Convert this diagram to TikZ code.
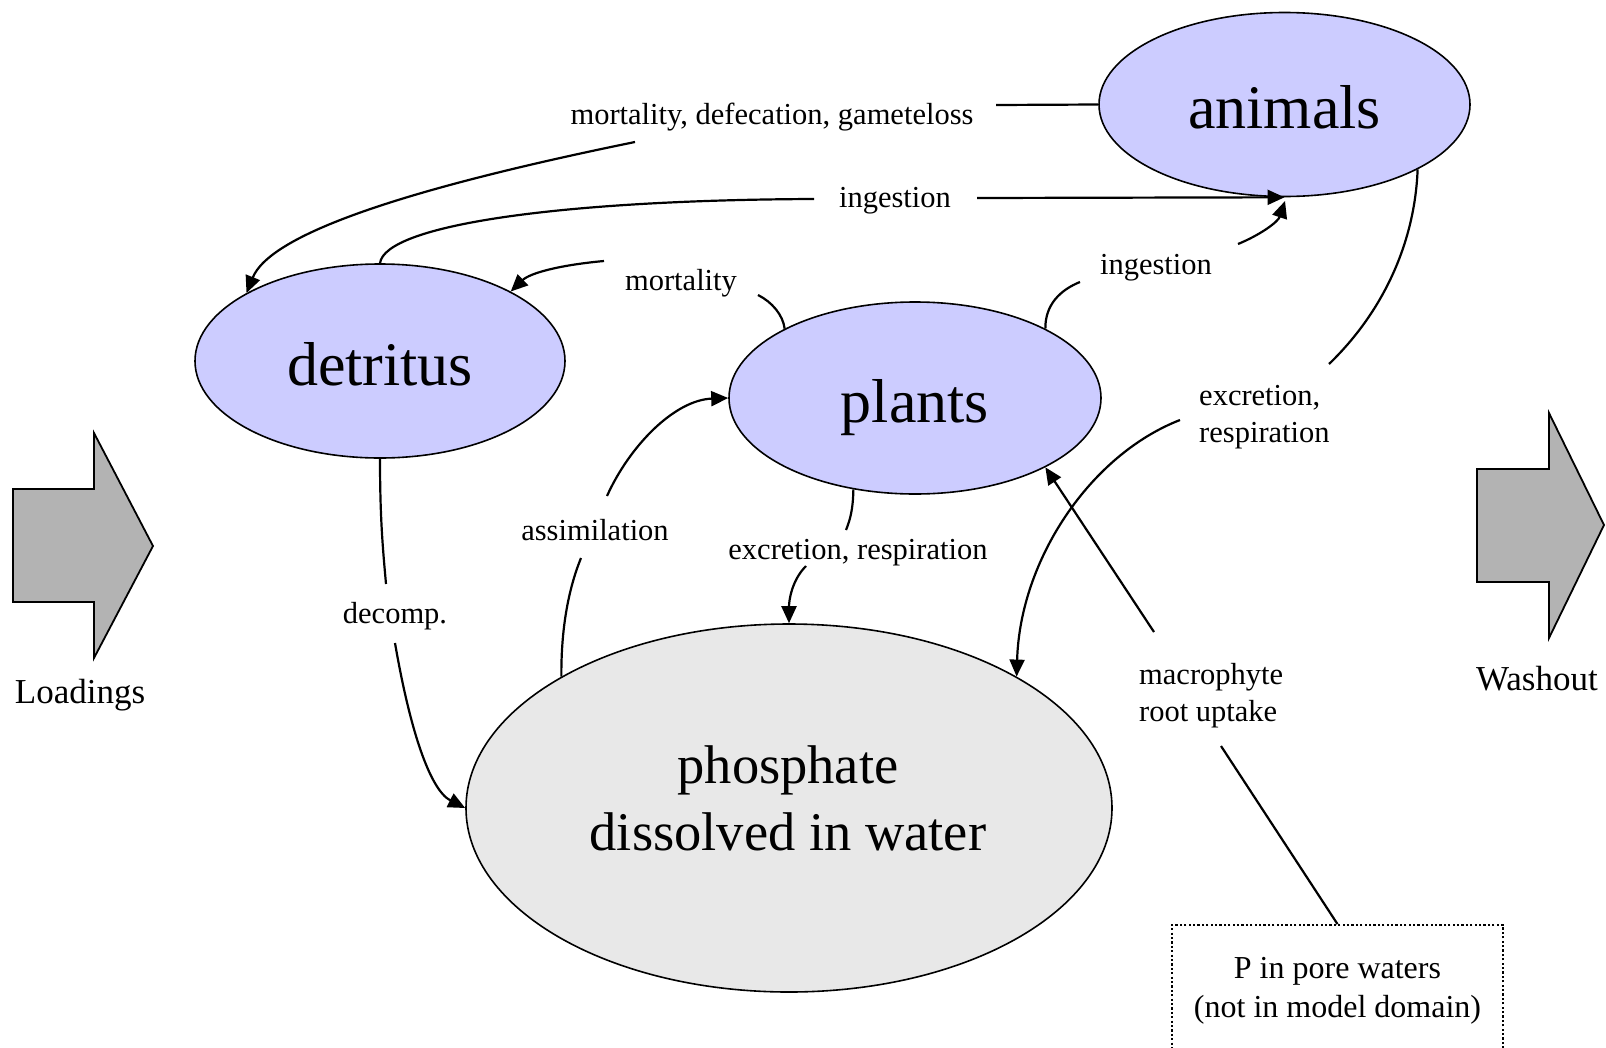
\documentclass[tikz,border=0pt]{standalone}
\usepackage{fontspec}
\setmainfont{Liberation Serif}
\usetikzlibrary{arrows.meta,shapes.geometric}
\definecolor{nodeblue}{RGB}{204,204,255}
\definecolor{phosgrey}{RGB}{232,232,232}
\definecolor{blockgrey}{RGB}{179,179,179}
\begin{document}
\begin{tikzpicture}[x=1pt,y=-1pt,
  pool/.style={ellipse,draw=black,line width=1.6pt,fill=nodeblue,inner sep=0pt,text height=48pt,text depth=0pt,font=\fontsize{62}{74}\selectfont},
  lbl/.style={inner sep=0pt,font=\fontsize{30.5}{37}\selectfont},
  conn/.style={line width=2.2pt},
  arr/.style={conn,-{Triangle[length=17pt,width=15pt]}},
  blockarrow/.style={draw=black,line width=1.8pt,fill=blockgrey,line join=miter},
]
\useasboundingbox (0,0) rectangle (1606,1047);
\fill[white] (0,0) rectangle (1606,1047);

% block arrows
\draw[blockarrow] (13,489) -- (94,489) -- (94,433) -- (153,546) -- (94,658) -- (94,602) -- (13,602) -- cycle;
\draw[blockarrow] (1477,469) -- (1549,469) -- (1549,413) -- (1604,525) -- (1549,638) -- (1549,582) -- (1477,582) -- cycle;
\node[font=\fontsize{35}{42}\selectfont,anchor=base,inner sep=0pt] (load) at (80,703) {Loadings};
\node[font=\fontsize{35}{42}\selectfont,anchor=base,inner sep=0pt] (wash) at (1537,690) {Washout};

% pools
\node[pool,minimum width=371pt,minimum height=184pt] (animals) at (1284.5,104.5) {animals};
\node[pool,minimum width=370pt,minimum height=194pt] (detritus) at (380,361) {detritus};
\node[pool,minimum width=372pt,minimum height=192pt] (plants) at (915,398) {plants};
\node[ellipse,draw=black,line width=1.6pt,fill=phosgrey,minimum width=646pt,minimum height=368pt,inner sep=0pt] (phosphate) at (789,808) {};
\node[font=\fontsize{54.5}{67}\selectfont,align=center,inner sep=0pt] (phostext) at (788,798) {phosphate\\dissolved in water};
\node[draw=black,dash pattern=on 2.2pt off 2.2pt,line width=1.8pt,minimum width=331pt,minimum height=140pt,inner sep=0pt] (pore) at (1337.5,995) {};
\node[align=center,inner sep=0pt,font=\fontsize{32}{39}\selectfont] (poretext) at (1337.5,991) {P in pore waters\\(not in model domain)};

% labels
\node[lbl,anchor=base] (mdg) at (772,124) {mortality, defecation, gameteloss};
\node[lbl,anchor=base] (ingT) at (895,207) {ingestion};
\node[lbl,anchor=base] (mort) at (681,290) {mortality};
\node[lbl,anchor=base] (ingR) at (1156,274) {ingestion};
\node[lbl,anchor=west,align=left] (excR) at (1199,417) {excretion,\\respiration};
\node[lbl,anchor=base] (assim) at (595,540) {assimilation};
\node[lbl,anchor=base] (excM) at (858,559) {excretion, respiration};
\node[lbl,anchor=base] (decomp) at (395,623) {decomp.};
\node[lbl,anchor=west,align=left] (macro) at (1139,696) {macrophyte\\root uptake};

% gap end coordinates
\coordinate (mdgR) at (996,105);
\coordinate (mdgL) at (635,142);
\coordinate (ingTL) at (814,199);
\coordinate (ingTR) at (977,198);
\coordinate (mortR) at (758,295);
\coordinate (mortL) at (604,261);
\coordinate (ingRL) at (1080,282);
\coordinate (ingRR) at (1238,244);
\coordinate (ingTip) at (1285,201);
\coordinate (excRT) at (1329,364);
\coordinate (excRL) at (1180,420);
\coordinate (macLo) at (1221,746);
\coordinate (macHi) at (1154,632);
\coordinate (asLo) at (581,558);
\coordinate (asHi) at (607,496);
\coordinate (exMHi) at (846,530);
\coordinate (exMLo) at (806,566);
\coordinate (dcHi) at (386,584);
\coordinate (dcLo) at (395,643);

% connectors
\draw[conn] (animals.west) -- (mdgR);
\draw[arr] (mdgL) .. controls (400,190) and (270,235) .. (detritus.153);

\draw[conn] (detritus.north) .. controls (385,225) and (560,200) .. (ingTL);
\draw[arr] (ingTR) -- (animals.south);

\draw[conn] (plants.152.6) .. controls (783,315) and (772,302) .. (mortR);
\draw[arr] (mortL) .. controls (560,265) and (530,273) .. (detritus.28);

\draw[conn] (plants.28) .. controls (1045,305) and (1060,290) .. (ingRL);
\draw[arr] (ingRR) .. controls (1260,235) and (1278,222) .. (ingTip);

\draw[conn] (animals.-26) .. controls (1415,240) and (1385,310) .. (excRT);
\draw[arr] (excRL) .. controls (1090,455) and (1020,560) .. (phosphate.30);

\draw[conn] (pore.north) -- (macLo);
\draw[arr] (macHi) -- (plants.-28);

\draw[conn] (phosphate.150) .. controls (561,630) and (568,590) .. (asLo);
\draw[arr] (asHi) .. controls (630,445) and (675,400) .. (plants.west);

\draw[conn] (plants.236.6) .. controls (853,510) and (850,520) .. (exMHi);
\draw[arr] (exMLo) .. controls (792,580) and (789,600) .. (phosphate.north);

\draw[conn] (detritus.south) .. controls (380,520) and (383,550) .. (dcHi);
\draw[arr] (dcLo) .. controls (410,730) and (430,790) .. (phosphate.west);
\end{tikzpicture}
\end{document}
